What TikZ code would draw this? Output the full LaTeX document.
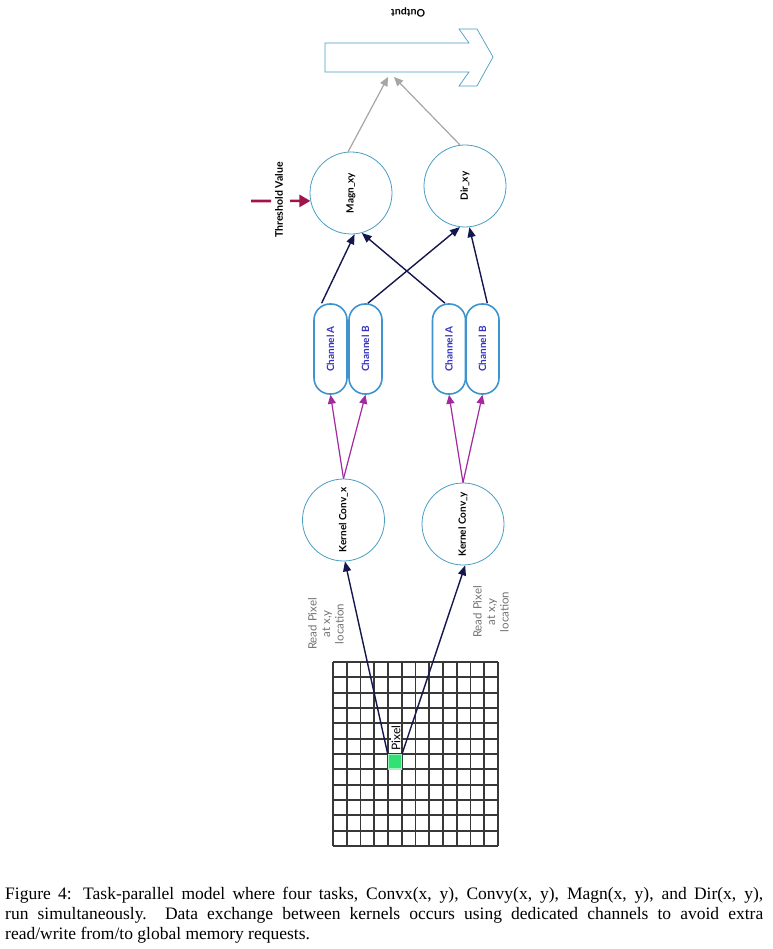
\documentclass[tikz,border=0pt]{standalone}
\usepackage{fontspec}
\setmainfont{Liberation Serif}
\newfontfamily\lato{Lato}
\usepackage{graphicx}
\usetikzlibrary{arrows.meta}
\definecolor{colN}{rgb}{.08,.09,.30}
\definecolor{colM}{rgb}{.64,.16,.62}
\definecolor{colT}{rgb}{.63,.08,.29}
\definecolor{colC}{rgb}{.29,.62,.77}
\definecolor{colCh}{rgb}{.24,.58,.81}
\definecolor{colChT}{rgb}{.20,.20,.75}
\definecolor{colP}{rgb}{.20,.88,.45}
\colorlet{gcol}{black!35!white}
\colorlet{lcol}{black!55!white}
\tikzstyle{task}=[circle, draw=colC, line width=0.8pt, minimum size=82pt, inner sep=0pt, font=\lato\bfseries\fontsize{10}{12}\selectfont]
\tikzstyle{chan}=[rectangle, draw=colCh, line width=1.6pt, rounded corners=16pt, minimum width=33pt, minimum height=90pt, inner sep=0pt, text=colChT, font=\lato\bfseries\fontsize{10}{12}\selectfont]
\tikzstyle{lbl}=[inner sep=0pt, font=\lato\bfseries\fontsize{10.5}{12}\selectfont]
\tikzstyle{rlbl}=[inner sep=0pt, align=center, text=lcol, rotate=90, font=\lato\fontsize{11.5}{13.5}\selectfont]
\tikzstyle{nedge}=[line width=1.4pt, colN, -{Triangle[length=10pt,width=8pt]}]
\tikzstyle{medge}=[line width=1.2pt, colM, -{Triangle[length=9pt,width=8pt]}]
\tikzstyle{gedge}=[line width=1.2pt, gcol, -{Triangle[length=9pt,width=8pt]}]
\tikzstyle{tedge}=[line width=2.6pt, colT, dash pattern=on 20pt off 19pt, -{Triangle[length=11pt,width=12pt]}]
\tikzstyle{gridline}=[line width=1.7pt, black!78]

\begin{document}
\begin{tikzpicture}[x=1pt, y=-1pt]
	\path[use as bounding box, fill=white] (0,0) rectangle (772,949);
	% output arrow
	\draw[colC, line width=0.7pt] (325,43) -- (469,43) -- (459,29) -- (477,29) -- (493,57) -- (477,86) -- (459,86) -- (469,72) -- (325,72) -- cycle;
	\coordinate (outL) at (388,77);
	\coordinate (outR) at (394,77);
	\node[lbl, rotate=180] (out) at (408,12) {Output};
	% tasks
	\node[task] (magn) at (351,193) {\rotatebox{90}{Magn\_xy}};
	\node[task] (dir) at (465,186) {\rotatebox{90}{Dir\_xy}};
	\node[task] (convx) at (343.5,520) {\rotatebox{90}{Kernel Conv\_x}};
	\node[task] (convy) at (463,524) {\rotatebox{90}{Kernel Conv\_y}};
	% channels
	\node[chan] (ca1) at (330.5,349) {\rotatebox{90}{Channel A}};
	\node[chan] (cb1) at (365.5,349) {\rotatebox{90}{Channel B}};
	\node[chan] (ca2) at (449,349) {\rotatebox{90}{Channel A}};
	\node[chan] (cb2) at (482.5,349) {\rotatebox{90}{Channel B}};
	% threshold
	\node[lbl, rotate=90] (thrtxt) at (279,200) {Threshold Value};
	\coordinate (thr) at (251,201);
	% image grid
	\foreach \i in {0,...,12} {
		\draw[gridline] (333+\i*13.75,662) -- (333+\i*13.75,846);
		\draw[gridline] (333,662+\i*15.333) -- (498,662+\i*15.333);
	}
	\node[fill=colP, draw=colP!45, line width=1.5pt, inner sep=0pt, minimum width=13pt, minimum height=14.5pt] (pix) at (394.9,761.7) {};
	\node[fill=white, inner sep=0.6pt, rotate=90, font=\lato\fontsize{12}{12}\selectfont] (pixtxt) at (396,738) {Pixel};
	\node[rlbl] (rd1) at (326,624) {Read Pixel\\at x,y\\location};
	\node[rlbl] (rd2) at (491,612) {Read Pixel\\at x,y\\location};
	% connectors
	\path[gedge] (magn.94)edge(outL) (dir.97)edge(outR) ;
	\path[nedge] (ca1.101)edge(magn.-85) (ca2.95)edge(magn.-75) (cb1.87)edge(dir.-97) (cb2.84)edge(dir.-84) ;
	\path[medge] (convx.north)edge(ca1.south) (convx.north)edge(cb1.south) (convy.north)edge(ca2.south) (convy.north)edge(cb2.south) ;
	\path[nedge] (pix.north west)edge(convx.-88) (pix.north east)edge(convy.-87) ;
	\draw[tedge] (thr) -- (magn.191) ;
	% caption
	\node[anchor=north west, inner sep=0pt, text width=758pt, align=justify, font=\fontsize{17.5}{20}\selectfont] (cap) at (5,887) {Figure 4: Task-parallel model where four tasks, Convx(x, y), Convy(x, y), Magn(x, y), and Dir(x, y),\linebreak run simultaneously.\ \ Data exchange between kernels occurs using dedicated channels to avoid extra\linebreak read/write from/to global memory requests.};
\end{tikzpicture}
\end{document}
